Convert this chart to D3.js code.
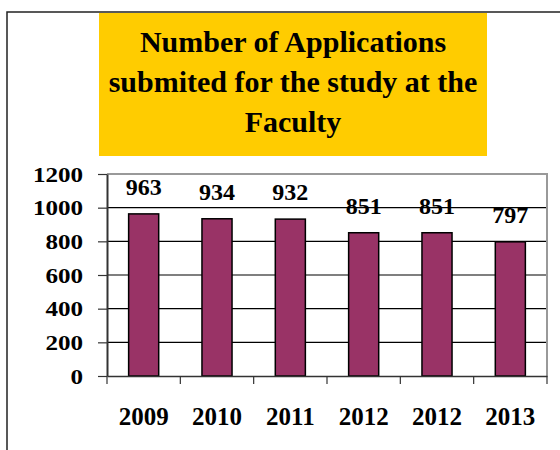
<!DOCTYPE html>
<html>
<head>
<meta charset="utf-8">
<script src="https://cdn.jsdelivr.net/npm/d3@7/dist/d3.min.js"></script>
<style>
  body { margin: 0; background: #fff; }
  svg { display: block; }
  svg text { font-family: 'Liberation Serif', 'Times New Roman', Times, serif; font-weight: bold; }
</style>
</head>
<body>
<div id="chart"></div>
<script>
// data (note: "2012" appears twice in the original)
const years = ['2009', '2010', '2011', '2012', '2012', '2013']
const applications = [963, 934, 932, 851, 851, 797]
const yTicks = [0, 200, 400, 600, 800, 1000, 1200]
const titleLines = ['Number of Applications', 'submited for the study at the', 'Faculty']

const W = 560, H = 450
const plot = { left: 107, right: 547, top: 174, bottom: 376 }

const svg = d3.select('#chart').append('svg')
    .attr('width', W)
    .attr('height', H)

// outer frame (only left + top edges are visible)
svg.append('path')
    .attr('d', `M7,${H} V12 H${W}`)
    .attr('fill', 'none')
    .attr('stroke', '#222')
    .attr('stroke-width', 1.5)

// title box
svg.append('rect')
    .attr('x', 99).attr('y', 13)
    .attr('width', 388).attr('height', 143)
    .attr('fill', '#FFCC00')

svg.append('g').selectAll('text').data(titleLines)
    .enter()
    .append('text')
    .attr('x', 293)
    .attr('y', (d, i) => 52 + i * 40)
    .attr('text-anchor', 'middle')
    .attr('font-size', 30)
    .text(d => d)

const x = d3.scaleBand()
    .domain(d3.range(years.length))
    .range([plot.left, plot.right])
    .paddingInner(0.59)
    .paddingOuter(0.295)

const y = d3.scaleLinear()
    .domain([0, 1200])
    .range([plot.bottom, plot.top])

// gridlines
svg.append('g').selectAll('line').data(yTicks.filter(t => t > 0 && t < 1200))
    .enter()
    .append('line')
    .attr('x1', plot.left).attr('x2', plot.right)
    .attr('y1', d => y(d)).attr('y2', d => y(d))
    .attr('stroke', '#000')
    .attr('stroke-width', 1.2)

// plot area border (top + right, grey)
svg.append('path')
    .attr('d', `M${plot.left},${y(1200)} H${plot.right} V${plot.bottom}`)
    .attr('fill', 'none')
    .attr('stroke', '#999')
    .attr('stroke-width', 2)

// bars
svg.append('g').selectAll('rect').data(applications)
    .enter()
    .append('rect')
    .attr('x', (d, i) => x(i))
    .attr('y', d => y(d))
    .attr('width', x.bandwidth())
    .attr('height', d => y(0) - y(d))
    .attr('fill', '#993366')
    .attr('stroke', '#000')
    .attr('stroke-width', 1.5)

// value labels
svg.append('g').selectAll('text').data(applications)
    .enter()
    .append('text')
    .attr('x', (d, i) => x(i) + x.bandwidth() / 2)
    .attr('y', d => y(d) - 19)
    .attr('text-anchor', 'middle')
    .attr('font-size', 24)
    .text(d => d)

// y axis
const yAxis = svg.append('g')
    .attr('transform', `translate(${plot.left},0)`)
    .call(d3.axisLeft(y).tickValues(yTicks).tickFormat(d3.format('d'))
        .tickSize(9).tickPadding(12).tickSizeOuter(0))
yAxis.select('.domain').attr('stroke', '#333').attr('stroke-width', 2)
yAxis.selectAll('.tick line').attr('stroke', '#333').attr('stroke-width', 1.2)
yAxis.selectAll('.tick text')
    .attr('font-size', 22)
    .attr('fill', '#000')
    .attr('transform', 'scale(1.14,1)')

// x axis: labels centred on bars, ticks on category boundaries
const xAxis = svg.append('g')
    .attr('transform', `translate(0,${plot.bottom})`)
    .call(d3.axisBottom(x).tickFormat(i => years[i]).tickSize(0).tickPadding(31).tickSizeOuter(0))
xAxis.select('.domain').attr('stroke', '#333').attr('stroke-width', 1.5)
xAxis.selectAll('.tick text')
    .attr('font-size', 25)
    .attr('fill', '#000')

xAxis.append('g').selectAll('line').data(d3.range(years.length + 1))
    .enter()
    .append('line')
    .attr('x1', i => plot.left + i * x.step())
    .attr('x2', i => plot.left + i * x.step())
    .attr('y1', 0).attr('y2', 8)
    .attr('stroke', '#333')
    .attr('stroke-width', 1.2)
</script>
</body>
</html>
